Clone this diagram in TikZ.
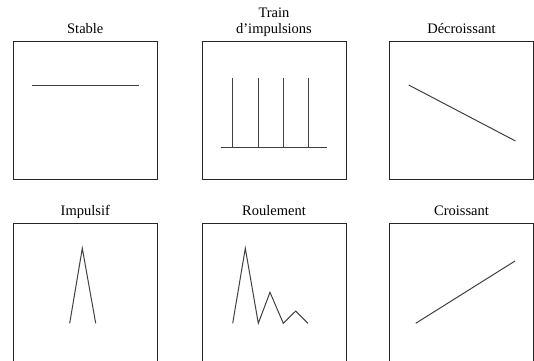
\documentclass[tikz,border=0pt]{standalone}
\usepackage{fontspec}
\setmainfont{Liberation Serif}
\begin{document}
\begin{tikzpicture}
[x=1pt,y=-1pt,
  boxdecorate/.style={shape=rectangle,draw=black!85,line width=0.9pt,minimum width=144pt,minimum height=138pt,inner sep=0pt},%
  labeldecorate/.style={anchor=base,align=center,inner sep=0pt,font=\fontsize{14.5}{16.3}\selectfont},%
  wavedecorate/.style={-,line width=1pt,draw=black!75}]
\useasboundingbox (0,0) rectangle (534,360);
%% boxes and titles
\foreach \boxname/\x/\y/\title in {stable/85.3/110.2/Stable, train/274/110.2/{Train\\d’impulsions},
  decr/461.5/110.2/Décroissant, impuls/85.3/292.4/Impulsif, roul/274/292.4/Roulement,
  crois/461.5/292.4/Croissant} {
  \node (\boxname) at (\x,\y) [boxdecorate] {};
  \node (\boxname-title) at ([yshift=7pt]\boxname.north) [labeldecorate] {\title};
}
%% curves inside the boxes
\draw[wavedecorate] (32.3,85) -- (138.7,85);
\draw[wavedecorate] (220.7,147.3) -- (326.7,147.3);
\foreach \x in {232.7,258,283.3,308.3} {
  \draw[wavedecorate] (\x,78.3) -- (\x,147.3);
}
\draw[wavedecorate] (408.7,85) -- (515.5,141);
\draw[wavedecorate] (69.7,323.3) -- (82.3,248.3) -- (95.7,323.3);
\draw[wavedecorate] (232.7,323.3) -- (245.3,248.3) -- (258.3,323.3) -- (270,292.3)
  -- (283.3,323.3) -- (295.7,311) -- (308,323.3);
\draw[wavedecorate] (415.7,323.3) -- (515,261);
\end{tikzpicture}
\end{document}
